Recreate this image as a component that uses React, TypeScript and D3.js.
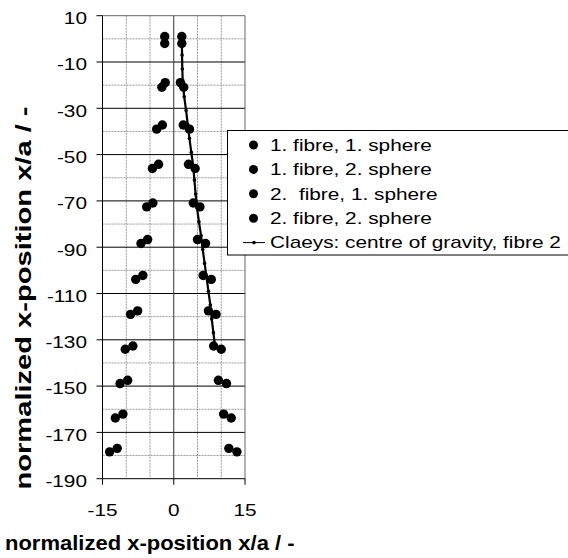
import React, { useRef, useEffect } from "react";
import * as d3 from "d3";

// y positions of the two spheres at each level (shared by both fibres)
const sphere1Y = [1, -18.9, -37.2, -54.2, -70.9, -86.7, -102.2, -117.5, -132.7, -147.5, -162.1, -176.9];
const sphere2Y = [-2, -20.9, -39.0, -56.0, -72.6, -88.4, -103.9, -119.0, -134.1, -148.9, -163.8, -178.4];

// x positions
const fibre1Sphere1X = [-1.9, -1.8, -2.4, -3.2, -4.4, -5.5, -6.5, -7.6, -8.6, -9.7, -10.7, -11.9];
const fibre1Sphere2X = [-1.9, -2.5, -3.6, -4.5, -5.7, -6.9, -8.0, -9.1, -10.2, -11.3, -12.3, -13.5];
const fibre2Sphere1X = [1.7, 1.4, 2.0, 3.1, 4.1, 5.0, 6.2, 7.3, 8.4, 9.4, 10.5, 11.6];
const fibre2Sphere2X = [1.7, 2.1, 3.3, 4.5, 5.5, 6.7, 7.9, 8.9, 10.0, 11.1, 12.1, 13.3];

// Claeys: centre of gravity, fibre 2
const claeysY = [-1, -7, -13, -19, -25, -31, -37, -43, -49, -55, -61, -67, -73, -79, -85, -91, -97, -103, -109, -115, -121, -127, -133];
const claeysX = [1.7, 1.75, 1.8, 1.9, 2.2, 2.6, 2.95, 3.3, 3.7, 4.1, 4.35, 4.6, 4.9, 5.3, 5.75, 6.1, 6.5, 6.9, 7.3, 7.7, 8.0, 8.35, 8.7];

const yTickValues = [10, -10, -30, -50, -70, -90, -110, -130, -150, -170, -190];
const xTickValues = [-15, 0, 15];
const yMajorGrid = [-10, -30, -50, -70, -90, -110, -130, -150, -170];
const yMinorGrid = [0, -20, -40, -60, -80, -100, -120, -140, -160, -180];
const xMinorGrid = [-10, -5, 5, 10];

const legendLabels = [
  "1. fibre, 1. sphere",
  "1. fibre, 2. sphere",
  "2.  fibre, 1. sphere",
  "2. fibre, 2. sphere",
  "Claeys: centre of gravity, fibre 2",
];

const FONT = "'Liberation Sans', Arial, sans-serif";
const STRETCH = 1.3;

const App = () => {
  const svgRef = useRef(null);

  useEffect(() => {
    const width = 568;
    const height = 558;
    const svg = d3.select(svgRef.current).attr("width", width).attr("height", height);
    svg.selectAll("*").remove();

    const x = d3.scaleLinear().domain([-15, 15]).range([102.5, 245]);
    const y = d3.scaleLinear().domain([-190, 10]).range([478.7, 15.7]);
    const [x0, x1] = x.range();
    const [yb, yt] = y.range();

    // minor grid
    const grid = svg.append("g");
    grid.selectAll(".hmin").data(yMinorGrid).join("line")
      .attr("x1", x0).attr("x2", x1).attr("y1", (d) => y(d)).attr("y2", (d) => y(d))
      .attr("stroke", "#999").attr("stroke-dasharray", "2,1");
    grid.selectAll(".vmin").data(xMinorGrid).join("line")
      .attr("y1", yt).attr("y2", yb).attr("x1", (d) => x(d)).attr("x2", (d) => x(d))
      .attr("stroke", "#999").attr("stroke-dasharray", "2,1");
    // major grid
    grid.selectAll(".hmaj").data(yMajorGrid).join("line")
      .attr("x1", x0).attr("x2", x1).attr("y1", (d) => y(d)).attr("y2", (d) => y(d))
      .attr("stroke", "#000");
    grid.append("line").attr("x1", x(0)).attr("x2", x(0)).attr("y1", yt).attr("y2", yb)
      .attr("stroke", "#333");
    // top / right border
    grid.append("path").attr("d", `M${x0},${yt}H${x1}V${yb}`).attr("fill", "none").attr("stroke", "#666");

    // axes
    const axes = svg.append("g").attr("stroke", "#000");
    axes.append("line").attr("x1", x0).attr("x2", x0).attr("y1", yt).attr("y2", yb);
    axes.append("line").attr("x1", x0).attr("x2", x1).attr("y1", yb).attr("y2", yb);
    axes.selectAll(".yt").data(yTickValues).join("line")
      .attr("x1", x0 - 6).attr("x2", x0).attr("y1", (d) => y(d)).attr("y2", (d) => y(d));
    axes.selectAll(".xt").data(xTickValues).join("line")
      .attr("y1", yb).attr("y2", yb + 6).attr("x1", (d) => x(d)).attr("x2", (d) => x(d));

    svg.append("g").selectAll("text").data(yTickValues).join("text")
      .attr("transform", (d) => `translate(87,${y(d)}) scale(${STRETCH},1)`)
      .attr("dy", "0.52em").attr("text-anchor", "end")
      .attr("font-family", FONT).attr("font-size", 16)
      .text((d) => d);
    svg.append("g").selectAll("text").data(xTickValues).join("text")
      .attr("transform", (d) => `translate(${x(d)},516) scale(${STRETCH},1)`)
      .attr("text-anchor", "middle")
      .attr("font-family", FONT).attr("font-size", 16)
      .text((d) => d);

    // Claeys line
    const claeys = claeysX.map((v, i) => ({ x: v, y: claeysY[i] }));
    const line = d3.line().x((d) => x(d.x)).y((d) => y(d.y));
    svg.append("path").datum(claeys).attr("d", line)
      .attr("fill", "none").attr("stroke", "#000").attr("stroke-width", 2.2);
    svg.append("g").selectAll("circle").data(claeys).join("circle")
      .attr("cx", (d) => x(d.x)).attr("cy", (d) => y(d.y)).attr("r", 1.8).attr("fill", "#000");

    // sphere series
    const series = [
      { xs: fibre1Sphere1X, ys: sphere1Y },
      { xs: fibre1Sphere2X, ys: sphere2Y },
      { xs: fibre2Sphere1X, ys: sphere1Y },
      { xs: fibre2Sphere2X, ys: sphere2Y },
    ];
    series.forEach((s) => {
      svg.append("g").selectAll("circle").data(s.xs).join("circle")
        .attr("cx", (d) => x(d)).attr("cy", (d, i) => y(s.ys[i])).attr("r", 4.7).attr("fill", "#000");
    });

    // legend
    const lg = svg.append("g");
    lg.append("rect").attr("x", 227.5).attr("y", 130.5).attr("width", 345).attr("height", 124.5)
      .attr("fill", "#fff").attr("stroke", "#000");
    const rowY = (i) => 145 + i * 24.4;
    legendLabels.forEach((label, i) => {
      if (i < 4) {
        lg.append("circle").attr("cx", 253.5).attr("cy", rowY(i)).attr("r", 4.5).attr("fill", "#000");
      } else {
        lg.append("line").attr("x1", 243).attr("x2", 265).attr("y1", rowY(i)).attr("y2", rowY(i))
          .attr("stroke", "#000");
        lg.append("circle").attr("cx", 254).attr("cy", rowY(i)).attr("r", 1.8).attr("fill", "#000");
      }
      lg.append("text")
        .attr("transform", `translate(270,${rowY(i)}) scale(${STRETCH},1)`)
        .attr("dy", "0.36em").attr("font-family", FONT).attr("font-size", 16)
        .style("white-space", "pre")
        .text(label);
    });

    // axis titles
    svg.append("text")
      .attr("transform", "translate(5,550) scale(1.1,1)")
      .attr("font-family", FONT).attr("font-size", 20).attr("font-weight", "bold")
      .text("normalized x-position x/a / -");
    svg.append("text")
      .attr("transform", "translate(31,298) rotate(-90) scale(1,1.1)")
      .attr("text-anchor", "middle")
      .attr("font-family", FONT).attr("font-size", 20).attr("font-weight", "bold")
      .attr("textLength", 383).attr("lengthAdjust", "spacingAndGlyphs")
      .text("normalized x-position x/a / -");
  }, []);

  return (
    <div style={{ position: "absolute", left: 0, top: 0 }}>
      <svg ref={svgRef} style={{ display: "block" }}></svg>
    </div>
  );
};

export default App;
